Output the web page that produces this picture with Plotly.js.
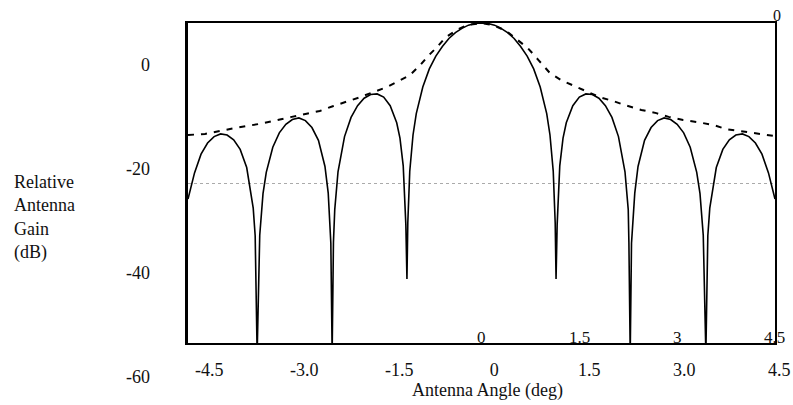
<!DOCTYPE html>
<html>
<head>
<meta charset="utf-8">
<script src="https://cdn.plot.ly/plotly-3.0.1.min.js"></script>
<style>html,body{margin:0;padding:0;background:#fff;}#chart{width:793px;height:405px;}</style>
</head>
<body>
<div id="chart"></div>
<script>
// Antenna pattern (solid): angle (deg) and relative gain (dB)
const patternAngle = [
  -4.5, -4.4, -4.3, -4.2, -4.1, -4.0, -3.9, -3.8, -3.7, -3.6, -3.5, -3.47, -3.44, -3.4, -3.35, -3.3, -3.2, -3.1, -3.0,
  -2.9, -2.8, -2.7, -2.6, -2.5, -2.4, -2.35, -2.31, -2.29, -2.27, -2.25, -2.2, -2.1, -2.0, -1.9, -1.8, -1.7, -1.6,
  -1.5, -1.4, -1.3, -1.25, -1.2, -1.16, -1.143, -1.13, -1.1, -1.05, -1.0, -0.9, -0.8, -0.7, -0.6, -0.5, -0.4, -0.3,
  -0.2, -0.1, 0, 0.1, 0.2, 0.3, 0.4, 0.5, 0.6, 0.7, 0.8, 0.9, 1.0, 1.05, 1.1, 1.13, 1.143, 1.16, 1.2, 1.25, 1.3,
  1.4, 1.5, 1.6, 1.7, 1.8, 1.9, 2.0, 2.1, 2.2, 2.25, 2.26, 2.28, 2.30, 2.35, 2.4, 2.5, 2.6, 2.7, 2.8, 2.9, 3.0,
  3.1, 3.2, 3.3, 3.35, 3.4, 3.44, 3.47, 3.5, 3.6, 3.7, 3.8, 3.9, 4.0, 4.1, 4.2, 4.3, 4.4, 4.5
];
const patternGain = [
  -33.0, -28.1, -24.6, -22.5, -21.3, -20.8, -21.0, -21.9, -23.7, -27.1, -34.7, -39.9, -62, -39.8, -32.0, -28.0, -23.3, -20.6, -19.0,
  -18.1, -17.8, -18.3, -19.6, -22.0, -26.9, -31.9, -41.3, -62, -41.1, -35.0, -27.9, -21.3, -17.7, -15.5, -14.1, -13.4, -13.3,
  -13.9, -15.5, -18.7, -21.6, -26.8, -37.8, -48, -37.5, -27.8, -21.0, -17.0, -12.0, -8.6, -6.2, -4.4, -2.9, -1.8, -1.0,
  -0.4, -0.1, 0, -0.1, -0.4, -1.0, -1.8, -2.9, -4.4, -6.2, -8.6, -12.0, -17.0, -21.0, -27.8, -37.5, -48, -37.8, -26.8, -21.6, -18.7,
  -15.5, -13.9, -13.3, -13.4, -14.1, -15.5, -17.7, -21.3, -27.9, -35.0, -41.1, -62, -41.3, -31.9, -26.9, -22.0, -19.6, -18.3, -17.8, -18.1, -19.0,
  -20.6, -23.3, -28.0, -32.0, -39.8, -62, -39.9, -34.7, -27.1, -23.7, -21.9, -21.0, -20.8, -21.3, -22.5, -24.6, -28.1, -33.0
];

// Envelope (dashed)
const envelopeAngle = [
  -4.5, -4.24, -3.78, -3.35, -2.91, -2.48, -2.28, -1.86, -1.45, -1.10, -0.94, -0.82, -0.68, -0.56, -0.38, -0.22, 0,
  0.18, 0.38, 0.56, 0.71, 0.87, 1.05, 1.22, 1.43, 1.63, 1.81, 2.01, 2.20, 2.45, 2.68, 2.87, 3.09, 3.32, 3.55, 3.75, 3.98, 4.18, 4.5
];
const envelopeGain = [
  -21.0, -20.8, -19.7, -18.8, -17.6, -16.5, -15.6, -13.9, -12.0, -9.8, -7.9, -6.2, -4.5, -2.8, -1.3, -0.4, 0,
  -0.4, -1.5, -3.2, -4.7, -6.9, -9.4, -10.7, -11.8, -12.9, -13.9, -14.6, -15.4, -16.3, -16.9, -17.6, -18.2, -18.6, -19.1, -19.9, -20.3, -20.6, -21.2
];

// Outer tick labels
const outerXTicks = [-4.5, -3.0, -1.5, 0, 1.5, 3.0, 4.5];
const outerXText = ['-4.5', '-3.0', '-1.5', '0', '1.5', '3.0', '4.5'];
const outerYTicks = [0, -20, -40, -60];
const outerYText = ['0', '-20', '-40', '-60'];
// Inner tick labels of the plot frame
const innerXTicks = [0, 1.5, 3, 4.5];
const innerXText = ['0', '1.5', '3', '4.5'];
const gridY = [-30];

const serif = 'Liberation Serif, Times New Roman, serif';
const ink = '#111';

const data = [
  {x: patternAngle, y: patternGain, type: 'scatter', mode: 'lines',
   line: {color: '#000', width: 1.6}, hoverinfo: 'skip'},
  {x: envelopeAngle, y: envelopeGain, type: 'scatter', mode: 'lines',
   line: {color: '#000', width: 2, dash: '6px,7px'}, hoverinfo: 'skip'},
  {x: [], y: [], xaxis: 'x2', yaxis: 'y2', type: 'scatter', mode: 'lines', hoverinfo: 'skip'}
];

const innerLabels = innerXTicks.map((v, i) => ({
  text: innerXText[i], xref: 'x', yref: 'y', x: v, y: -60,
  xanchor: 'center', yanchor: 'bottom', yshift: -6, showarrow: false,
  font: {family: serif, size: 17, color: ink}
}));

const layout = {
  width: 793, height: 405,
  margin: {l: 10, r: 10, t: 10, b: 10},
  paper_bgcolor: '#fff', plot_bgcolor: 'rgba(0,0,0,0)',
  showlegend: false,
  font: {family: serif, size: 18, color: ink},
  xaxis: {
    domain: [0.23027, 0.98965], range: [-4.5, 4.5], anchor: 'y',
    showline: true, mirror: true, linecolor: '#000', linewidth: 2,
    showgrid: false, zeroline: false, ticks: '', showticklabels: false
  },
  yaxis: {
    domain: [0.13506, 0.96623], range: [-60, 0], anchor: 'x',
    showline: true, mirror: true, linecolor: '#000', linewidth: 2.5,
    showgrid: true, gridcolor: '#aaa', griddash: 'dot', gridwidth: 1,
    tickmode: 'array', tickvals: gridY, showticklabels: false, ticks: '', zeroline: false
  },
  xaxis2: {
    domain: [0, 1], range: [-7.646, 4.558], anchor: 'free', position: 0.0987,
    showline: false, showgrid: false, zeroline: false, ticks: '',
    tickmode: 'array', tickvals: outerXTicks, ticktext: outerXText,
    tickfont: {family: serif, size: 18, color: ink}
  },
  yaxis2: {
    domain: [0, 1], range: [-63.46, 10.58], anchor: 'free', position: 0.1811, side: 'left',
    showline: false, showgrid: false, zeroline: false, ticks: '',
    tickmode: 'array', tickvals: outerYTicks, ticktext: outerYText,
    tickfont: {family: serif, size: 18, color: ink}
  },
  annotations: [
    {text: 'Antenna Angle (deg)', xref: 'paper', yref: 'paper', x: 0.6171, y: 0.012,
     xanchor: 'center', yanchor: 'middle', showarrow: false, font: {family: serif, size: 18, color: ink}},
    {text: 'Relative<br>Antenna<br>Gain<br>(dB)', xref: 'paper', yref: 'paper', x: 0.0026, y: 0.4623,
     xanchor: 'left', yanchor: 'middle', align: 'left', showarrow: false, font: {family: serif, size: 18, color: ink}},
    {text: '0', xref: 'x', yref: 'y', x: 4.5, y: 0, xanchor: 'center', yanchor: 'bottom', yshift: -3, xshift: 2,
     showarrow: false, font: {family: serif, size: 16, color: ink}}
  ].concat(innerLabels)
};

Plotly.newPlot('chart', data, layout, {staticPlot: true, displayModeBar: false});
</script>
</body>
</html>
